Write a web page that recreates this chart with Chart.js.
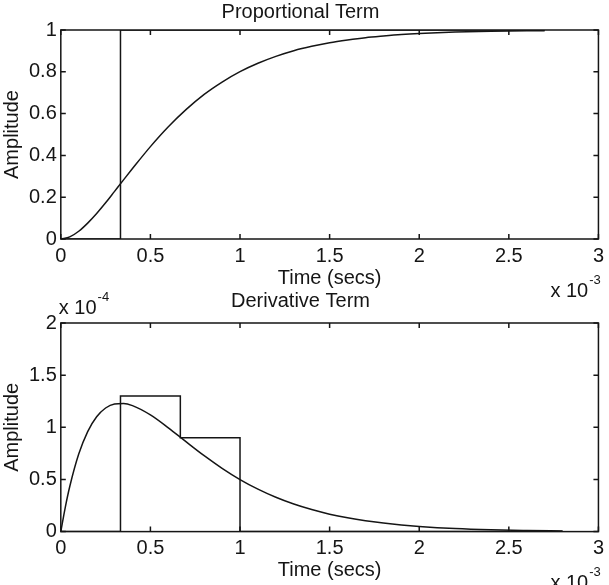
<!DOCTYPE html>
<html>
<head>
<meta charset="utf-8">
<script src="https://cdn.jsdelivr.net/npm/chart.js@4.4.1/dist/chart.umd.min.js"></script>
<style>
  html, body { margin: 0; padding: 0; background: #fff; }
  #wrap { position: relative; width: 609px; height: 585px; overflow: hidden; }
  canvas { position: absolute; left: 0; }
  #prop { top: 0; }
  #deriv { top: 285px; }
</style>
</head>
<body>
<div id="wrap">
  <canvas id="prop" width="609" height="300"></canvas>
  <canvas id="deriv" width="609" height="300"></canvas>
</div>
<script>
// time axis in units of 1e-3 s, derivative amplitude in units of 1e-4
const xTicks = [0, 0.5, 1, 1.5, 2, 2.5, 3];
const propTicks = [0, 0.2, 0.4, 0.6, 0.8, 1];
const derivTicks = [0, 0.5, 1, 1.5, 2];

const propTime = [0, 0.05, 0.1, 0.15, 0.2, 0.25, 0.3, 0.35, 0.4, 0.5, 0.6, 0.7, 0.8, 0.9, 1.0, 1.1, 1.2, 1.3, 1.4, 1.5, 1.6, 1.7, 1.8, 1.9, 2.0, 2.2, 2.4, 2.7];
const propAmp = [0, 0.01, 0.037, 0.076, 0.122, 0.173, 0.228, 0.283, 0.337, 0.442, 0.537, 0.62, 0.692, 0.751, 0.801, 0.841, 0.874, 0.901, 0.922, 0.939, 0.952, 0.963, 0.971, 0.978, 0.983, 0.99, 0.994, 0.997];
const propStepTime = [0, 0.333, 2.7];
const propStepAmp = [0, 1, 1];

const derivTime = [0, 0.025, 0.05, 0.1, 0.15, 0.2, 0.25, 0.3, 0.35, 0.4, 0.5, 0.6, 0.7, 0.8, 0.9, 1.0, 1.1, 1.2, 1.3, 1.4, 1.5, 1.6, 1.7, 1.8, 1.9, 2.0, 2.2, 2.4, 2.6, 2.8];
const derivAmp = [0, 0.233, 0.432, 0.743, 0.959, 1.101, 1.185, 1.224, 1.229, 1.208, 1.119, 0.995, 0.86, 0.728, 0.607, 0.499, 0.407, 0.329, 0.264, 0.211, 0.167, 0.132, 0.104, 0.082, 0.064, 0.05, 0.03, 0.018, 0.011, 0.006];
const derivStepTime = [0, 0.333, 0.667, 1.0, 2.8];
const derivStepAmp = [0, 1.3, 0.9, 0, 0];

const ink = '#151515';
const fam = "'Liberation Sans', Arial, sans-serif";
Chart.defaults.font.family = fam;
Chart.defaults.font.size = 20;
Chart.defaults.color = ink;

const pts = (xs, ys) => xs.map((x, i) => ({ x: x, y: ys[i] }));

// matlab style box with inward ticks and the "x 10^n" multipliers
const matlabBox = {
  id: 'matlabBox',
  afterDatasetsDraw(chart, args, opts) {
    const { ctx, chartArea: a, scales } = chart;
    ctx.save();
    ctx.strokeStyle = ink;
    ctx.lineWidth = 1.5;
    ctx.strokeRect(a.left, a.top, a.right - a.left, a.bottom - a.top);
    const t = 5;
    ctx.beginPath();
    scales.x.ticks.forEach(tk => {
      const px = scales.x.getPixelForValue(tk.value);
      ctx.moveTo(px, a.bottom); ctx.lineTo(px, a.bottom - t);
      ctx.moveTo(px, a.top); ctx.lineTo(px, a.top + t);
    });
    scales.y.ticks.forEach(tk => {
      const py = scales.y.getPixelForValue(tk.value);
      ctx.moveTo(a.left, py); ctx.lineTo(a.left + t, py);
      ctx.moveTo(a.right, py); ctx.lineTo(a.right - t, py);
    });
    ctx.stroke();

    ctx.fillStyle = ink;
    ctx.textBaseline = 'middle';
    ctx.textAlign = 'left';
    const mult = (x, y, exp) => {
      ctx.font = '20px ' + fam;
      ctx.fillText('x 10', x, y);
      const w = ctx.measureText('x 10').width;
      ctx.font = '13px ' + fam;
      ctx.fillText(exp, x + w + 1, y - 11);
    };
    mult(a.right - 48, a.bottom + 52, '-3');
    if (opts.yExp) mult(a.left - 2, a.top - 15, opts.yExp);
    ctx.restore();
  }
};

function lineSet(data, stepped) {
  return {
    data: data,
    showLine: true,
    borderColor: ink,
    borderWidth: 1.5,
    pointRadius: 0,
    stepped: stepped,
    cubicInterpolationMode: stepped ? 'default' : 'monotone'
  };
}

function makeChart(id, title, titlePad, yTicks, yMax, series, steps, yExp, padBottom) {
  return new Chart(id, {
    type: 'scatter',
    data: { datasets: [lineSet(series, false), lineSet(steps, true)] },
    plugins: [matlabBox],
    options: {
      responsive: false,
      animation: false,
      layout: { padding: { left: 0, right: 8, top: 0, bottom: padBottom } },
      plugins: {
        legend: { display: false },
        tooltip: { enabled: false },
        title: { display: true, text: title, font: { size: 20, weight: 'normal' }, color: ink, padding: titlePad },
        matlabBox: { yExp: yExp }
      },
      scales: {
        x: {
          type: 'linear', min: 0, max: 3,
          afterBuildTicks: s => { s.ticks = xTicks.map(v => ({ value: v })); },
          ticks: { padding: 5, callback: v => String(v) },
          grid: { display: false, drawTicks: false },
          border: { display: false },
          title: { display: true, text: 'Time (secs)', padding: { top: -7, bottom: 0 } }
        },
        y: {
          type: 'linear', min: 0, max: yMax,
          afterBuildTicks: s => { s.ticks = yTicks.map(v => ({ value: v })); },
          ticks: { padding: 4, callback: v => String(v) },
          grid: { display: false, drawTicks: false },
          border: { display: false },
          title: { display: true, text: 'Amplitude', padding: { top: 0, bottom: 1 } }
        }
      }
    }
  });
}

makeChart('prop', 'Proportional Term', { top: 0, bottom: 6 }, propTicks, 1,
  pts(propTime, propAmp), pts(propStepTime, propStepAmp), null, 10);
makeChart('deriv', 'Derivative Term', { top: 4, bottom: 10 }, derivTicks, 2,
  pts(derivTime, derivAmp), pts(derivStepTime, derivStepAmp), '-4', 2.4);
</script>
</body>
</html>
